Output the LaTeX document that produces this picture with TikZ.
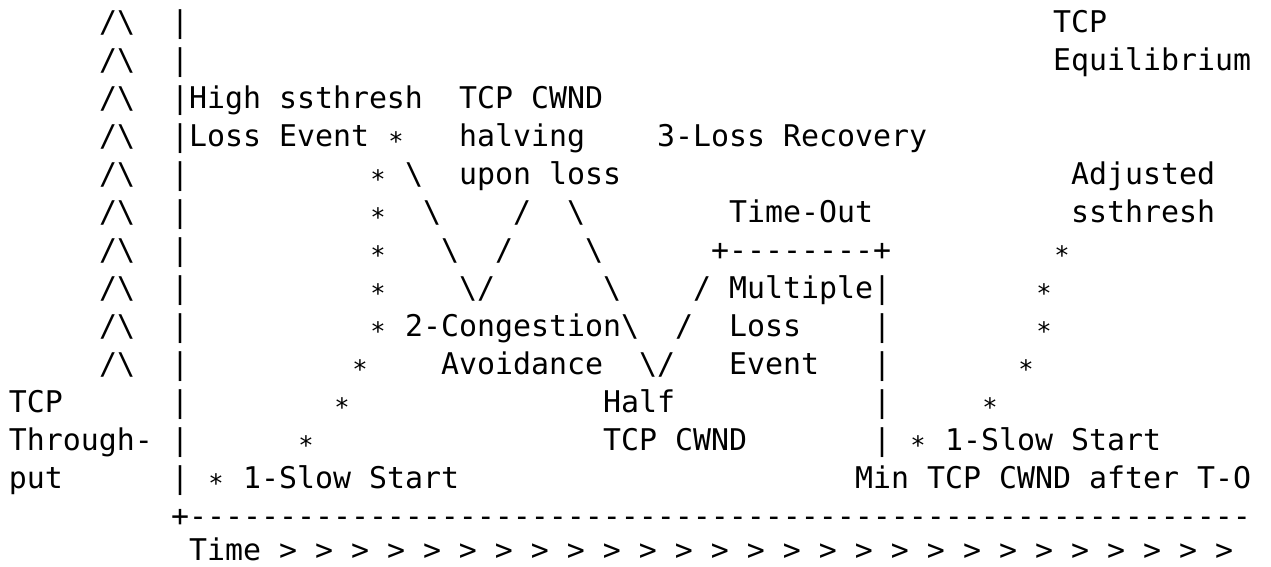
\documentclass[tikz,border=0pt]{standalone}
\usepackage{fontspec}
\usepackage{graphicx}
\setmonofont{DejaVu Sans Mono}
\newcommand\bsl{\textbackslash}
\newcommand\st{\makebox[18pt]{\raisebox{-4pt}{\scalebox{0.85}{*}}}}
\newcommand\txtat[4]{\node[txt] (#1) at ({9+18*#2},#3) {#4};}
\begin{document}
\begin{tikzpicture}[x=1pt,y=-1pt,
  txt/.style={anchor=base west, inner sep=0pt, outer sep=0pt, text=black,
    font=\ttfamily\fontsize{29.9pt}{36pt}\selectfont}]
\useasboundingbox[fill=white] (0,0) rectangle (1271,566);
% line 1
\txtat{aA}{5}{32}{/\bsl}
\txtat{aB}{9}{32}{|}
\txtat{aC}{58}{32}{TCP}
% line 2
\txtat{bA}{5}{70}{/\bsl}
\txtat{bB}{9}{70}{|}
\txtat{bC}{58}{70}{Equilibrium}
% line 3
\txtat{cA}{5}{108}{/\bsl}
\txtat{cB}{9}{108}{|High ssthresh}
\txtat{cC}{25}{108}{TCP CWND}
% line 4
\txtat{dA}{5}{146}{/\bsl}
\txtat{dB}{9}{146}{|Loss Event \st}
\txtat{dC}{25}{146}{halving}
\txtat{dD}{36}{146}{3-Loss Recovery}
% line 5
\txtat{eA}{5}{184}{/\bsl}
\txtat{eB}{9}{184}{|}
\txtat{eC}{20}{184}{\st{} \bsl}
\txtat{eD}{25}{184}{upon loss}
\txtat{eE}{59}{184}{Adjusted}
% line 6
\txtat{fA}{5}{222}{/\bsl}
\txtat{fB}{9}{222}{|}
\txtat{fC}{20}{222}{\st}
\txtat{fD}{23}{222}{\bsl}
\txtat{fE}{28}{222}{/}
\txtat{fF}{31}{222}{\bsl}
\txtat{fG}{40}{222}{Time-Out}
\txtat{fH}{59}{222}{ssthresh}
% line 7
\txtat{gA}{5}{260}{/\bsl}
\txtat{gB}{9}{260}{|}
\txtat{gC}{20}{260}{\st}
\txtat{gD}{24}{260}{\bsl}
\txtat{gE}{27}{260}{/}
\txtat{gF}{32}{260}{\bsl}
\txtat{gG}{39}{260}{+--------+}
\txtat{gH}{58}{260}{\st}
% line 8
\txtat{hA}{5}{298}{/\bsl}
\txtat{hB}{9}{298}{|}
\txtat{hC}{20}{298}{\st}
\txtat{hD}{25}{298}{\bsl/}
\txtat{hE}{33}{298}{\bsl}
\txtat{hF}{38}{298}{/}
\txtat{hG}{40}{298}{Multiple|}
\txtat{hH}{57}{298}{\st}
% line 9
\txtat{iA}{5}{336}{/\bsl}
\txtat{iB}{9}{336}{|}
\txtat{iC}{20}{336}{\st{} 2-Congestion\bsl}
\txtat{iD}{37}{336}{/}
\txtat{iE}{40}{336}{Loss}
\txtat{iF}{48}{336}{|}
\txtat{iG}{57}{336}{\st}
% line 10
\txtat{jA}{5}{374}{/\bsl}
\txtat{jB}{9}{374}{|}
\txtat{jC}{19}{374}{\st}
\txtat{jD}{24}{374}{Avoidance}
\txtat{jE}{35}{374}{\bsl/}
\txtat{jF}{40}{374}{Event}
\txtat{jG}{48}{374}{|}
\txtat{jH}{56}{374}{\st}
% line 11
\txtat{kA}{0}{412}{TCP}
\txtat{kB}{9}{412}{|}
\txtat{kC}{18}{412}{\st}
\txtat{kD}{33}{412}{Half}
\txtat{kE}{48}{412}{|}
\txtat{kF}{54}{412}{\st}
% line 12
\txtat{lA}{0}{450}{Through-}
\txtat{lB}{9}{450}{|}
\txtat{lC}{16}{450}{\st}
\txtat{lD}{33}{450}{TCP CWND}
\txtat{lE}{48}{450}{| \st{} 1-Slow Start}
% line 13
\txtat{mA}{0}{488}{put}
\txtat{mB}{9}{488}{| \st{} 1-Slow Start}
\txtat{mC}{47}{488}{Min TCP CWND after T-O}
% line 14
\txtat{nA}{9}{526}{+-----------------------------------------------------------}
% line 15
\txtat{oA}{10}{560}{Time > > > > > > > > > > > > > > > > > > > > > > > > > > >}
\end{tikzpicture}
\end{document}
